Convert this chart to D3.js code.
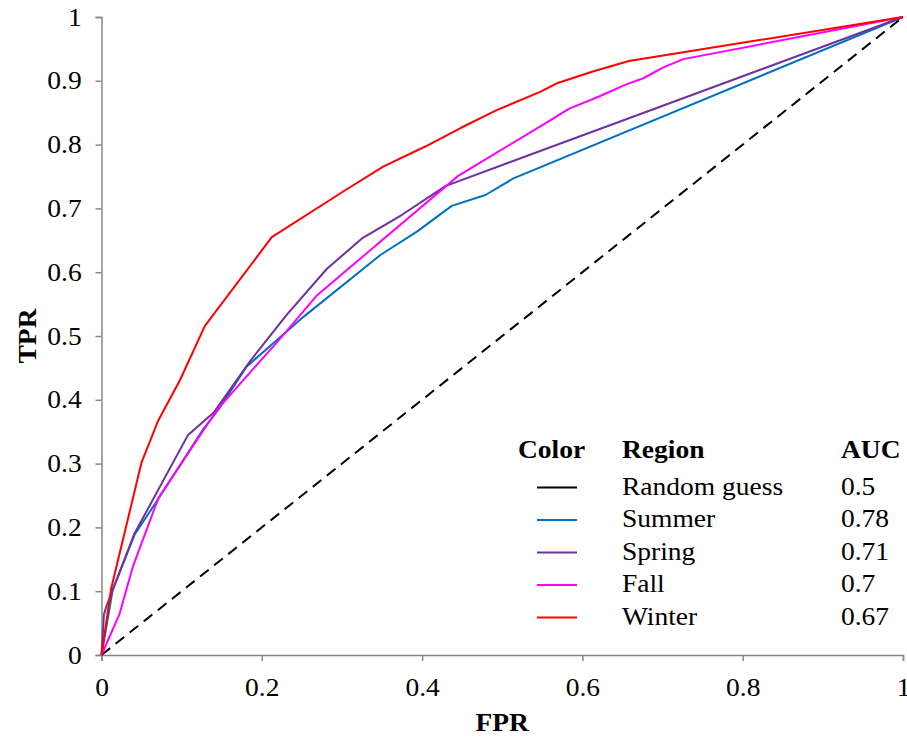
<!DOCTYPE html>
<html>
<head>
<meta charset="utf-8">
<script src="https://cdn.jsdelivr.net/npm/d3@7"></script>
<style>
  html, body { margin: 0; padding: 0; background: #fff; }
  svg text { font-family: "Liberation Serif", "Times New Roman", serif; fill: #000; }
</style>
</head>
<body>
<svg id="chart" width="907" height="738"></svg>
<script>
// ---- data ----
const xTicks = [0, 0.2, 0.4, 0.6, 0.8, 1];
const yTicks = [0, 0.1, 0.2, 0.3, 0.4, 0.5, 0.6, 0.7, 0.8, 0.9, 1];

const randomFPR = [0, 1];
const randomTPR = [0, 1];

const summerFPR = [0, 0.014, 0.041, 0.071, 0.127, 0.146, 0.181, 0.252, 0.348, 0.394, 0.437, 0.479, 0.514, 1];
const summerTPR = [0, 0.102, 0.188, 0.245, 0.354, 0.385, 0.452, 0.530, 0.627, 0.664, 0.704, 0.721, 0.747, 1];

const springFPR = [0, 0.003, 0.006, 0.041, 0.108, 0.140, 0.185, 0.231, 0.281, 0.325, 0.375, 0.429, 1];
const springTPR = [0, 0.063, 0.076, 0.190, 0.345, 0.380, 0.460, 0.533, 0.605, 0.653, 0.690, 0.735, 1];

const fallFPR = [0, 0.0227, 0.039, 0.071, 0.127, 0.146, 0.223, 0.269, 0.445, 0.548, 0.583, 0.620, 0.654, 0.676, 0.701, 0.726, 1];
const fallTPR = [0, 0.065, 0.138, 0.246, 0.352, 0.387, 0.496, 0.564, 0.751, 0.829, 0.856, 0.875, 0.894, 0.904, 0.921, 0.934, 1];

const winterFPR = [0, 0.012, 0.050, 0.071, 0.098, 0.129, 0.2125, 0.306, 0.352, 0.404, 0.448, 0.493, 0.548, 0.570, 0.614, 0.658, 1];
const winterTPR = [0, 0.104, 0.302, 0.368, 0.431, 0.516, 0.655, 0.730, 0.766, 0.797, 0.826, 0.854, 0.883, 0.897, 0.915, 0.931, 1];

const regions = ["Random guess", "Summer", "Spring", "Fall", "Winter"];
const aucs = ["0.5", "0.78", "0.71", "0.7", "0.67"];
const colors = ["#000000", "#0070C0", "#7030A0", "#FF00FF", "#FF0000"];
const legendHeaders = ["Color", "Region", "AUC"];

const seriesFPR = [randomFPR, summerFPR, springFPR, fallFPR, winterFPR];
const seriesTPR = [randomTPR, summerTPR, springTPR, fallTPR, winterTPR];

(function () {
// ---- layout ----
const svg = d3.select("#chart");
const pLeft = 101.5, pRight = 903, pTop = 17, pBottom = 655;
const x = d3.scaleLinear().domain([0, 1]).range([pLeft, pRight]);
const y = d3.scaleLinear().domain([0, 1]).range([pBottom, pTop]);
const axisColor = "#868686";
const fs = 25;
const sx = 1.1; // horizontal stretch of the reference's text

// axes
const xAxis = svg.append("g").attr("transform", `translate(0,${pBottom})`)
  .call(d3.axisBottom(x).tickValues(xTicks).tickFormat(d3.format("")).tickSize(6).tickPadding(17));
const yAxis = svg.append("g").attr("transform", `translate(${pLeft},0)`)
  .call(d3.axisLeft(y).tickValues(yTicks).tickFormat(d3.format("")).tickSize(6).tickPadding(12));
[xAxis, yAxis].forEach(g => {
  g.selectAll("path.domain").attr("stroke", axisColor).attr("stroke-width", 1.5);
  g.selectAll(".tick line").attr("stroke", axisColor).attr("stroke-width", 1.5);
  g.selectAll(".tick text").attr("font-size", fs).attr("font-family", "Liberation Serif")
    .attr("fill", "#000").attr("transform", `scale(${sx},1)`);
});
xAxis.selectAll(".tick text").attr("dy", "0.71em");

// axis titles
svg.append("text").attr("transform", `translate(${(pLeft + pRight) / 2},731) scale(${sx},1)`)
  .attr("text-anchor", "middle").attr("font-size", fs).attr("font-weight", "bold").text("FPR");
svg.append("text").attr("transform", `translate(36,${(pTop + pBottom) / 2}) rotate(-90) scale(${sx},1)`)
  .attr("text-anchor", "middle").attr("font-size", fs).attr("font-weight", "bold").text("TPR");

// lines
const line = d3.line().x(d => x(d[0])).y(d => y(d[1]));
seriesFPR.forEach((fx, i) => {
  const pts = fx.map((v, j) => [v, seriesTPR[i][j]]);
  svg.append("path").datum(pts)
    .attr("d", line)
    .attr("fill", "none")
    .attr("stroke", colors[i])
    .attr("stroke-width", 2)
    .attr("stroke-linejoin", "round")
    .attr("stroke-dasharray", i === 0 ? "11,7" : null);
});

// legend
const lg = svg.append("g");
const colX = [518, 622, 841];
const addText = (tx, ty, txt, bold) => lg.append("text")
  .attr("transform", `translate(${tx},${ty}) scale(${sx},1)`)
  .attr("dy", "0.35em").attr("font-size", fs)
  .attr("font-weight", bold ? "bold" : null).text(txt);
legendHeaders.forEach((h, k) => addText(colX[k], 449, h, true));
regions.forEach((r, i) => {
  const cy = 486 + i * 32.5;
  lg.append("line").attr("x1", 537).attr("x2", 577).attr("y1", cy + 1.5).attr("y2", cy + 1.5)
    .attr("stroke", colors[i]).attr("stroke-width", 2);
  addText(colX[1], cy, r, false);
  addText(colX[2], cy, aucs[i], false);
});
})();
</script>
</body>
</html>
